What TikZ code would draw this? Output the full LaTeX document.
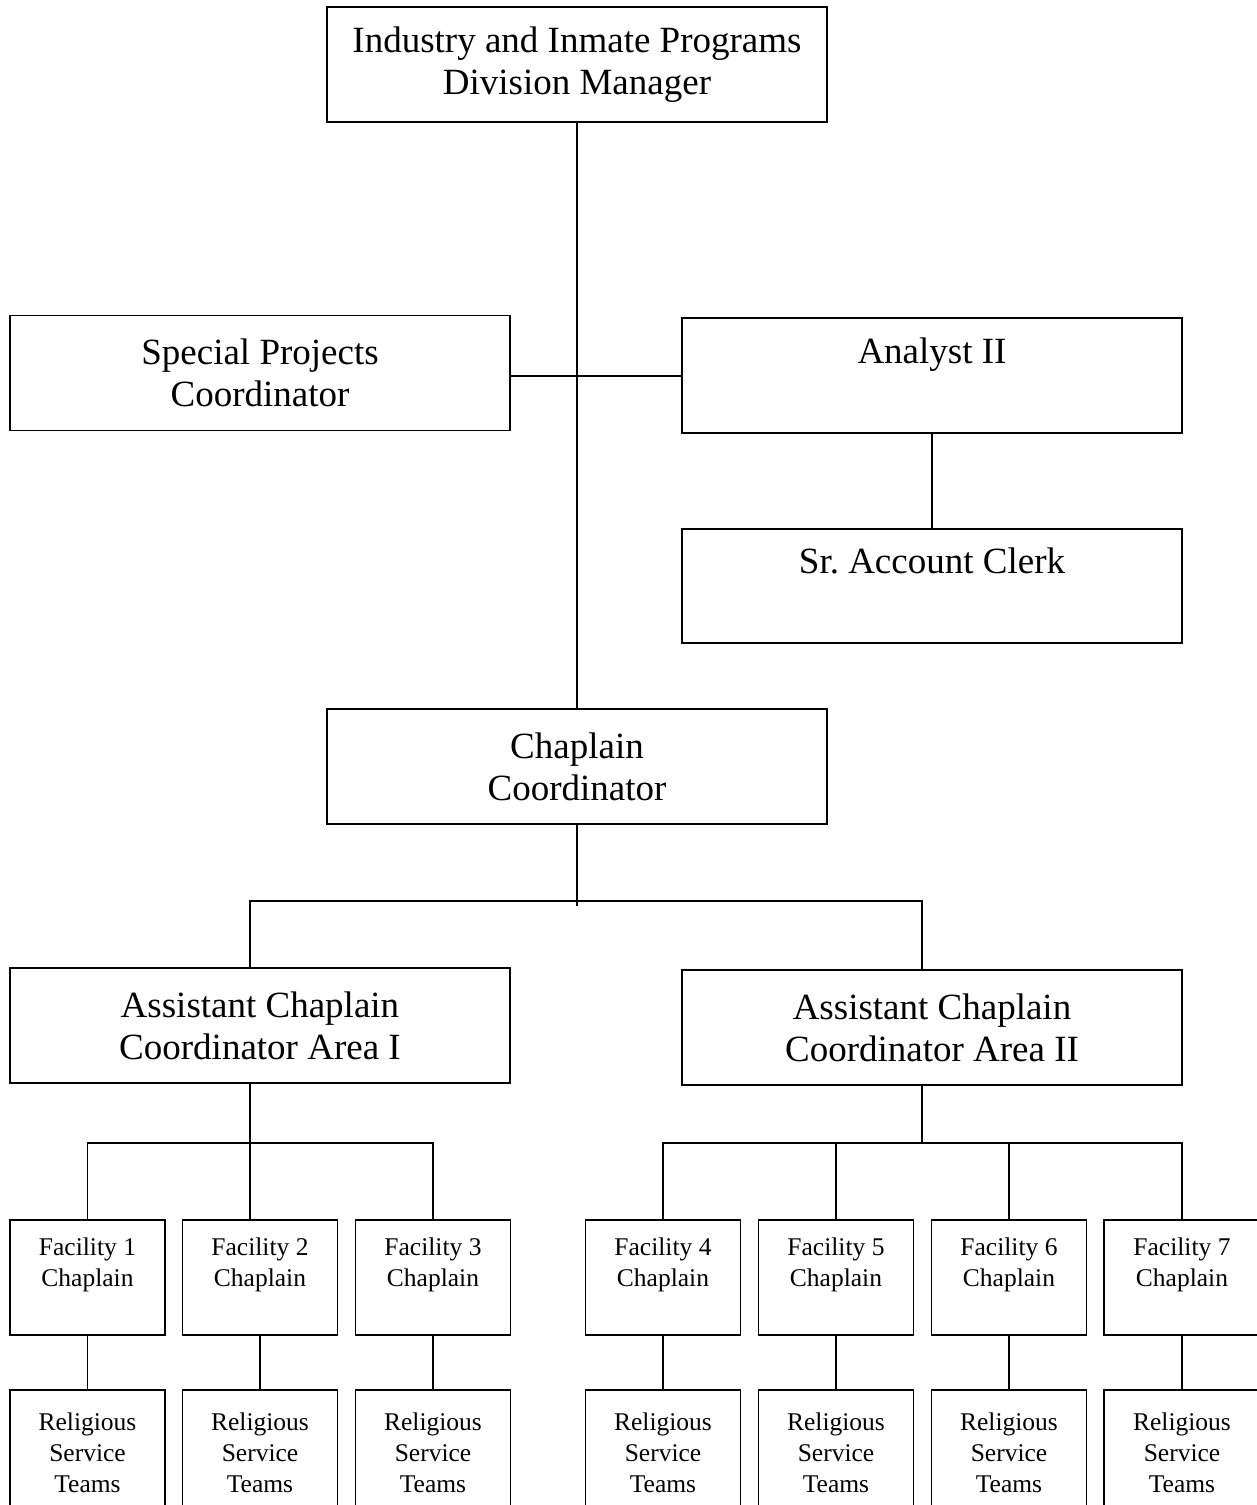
\documentclass[tikz,border=0pt]{standalone}
\usepackage{fontspec}
\setmainfont{Liberation Serif}
\frenchspacing
\begin{document}
\begin{tikzpicture}[x=1pt,y=-1pt,
  every path/.style={line width=1.8pt},
  bigbox/.style={draw, line width=1.8pt, minimum width=500pt, minimum height=115pt, inner sep=0pt, align=center, font=\fontsize{37}{42}\selectfont},
  facbox/.style={draw, line width=1.8pt, minimum width=155pt, minimum height=115pt, inner sep=0pt, align=center, font=\fontsize{25.5}{31}\selectfont},
  relbox/.style={facbox, minimum height=125pt},
  link/.style={draw, line width=1.6pt}]
\useasboundingbox (0,0) rectangle (1257,1505);
% upper boxes
\node[bigbox] (top) at (577,64.5) {Industry and Inmate Programs\\Division Manager};
\node[bigbox] (spc) at (260,373) {Special Projects\\Coordinator};
\node[bigbox] (an) at (932,375.5) {Analyst II\\\phantom{Ag}};
\node[bigbox, minimum height=114pt] (clerk) at (932,586) {Sr.\ Account Clerk\\\phantom{Ag}};
\node[bigbox] (chap) at (577,766.5) {Chaplain\\Coordinator};
\node[bigbox] (a1) at (260,1025.5) {Assistant Chaplain\\Coordinator Area I};
\node[bigbox] (a2) at (932,1027.5) {Assistant Chaplain\\Coordinator Area II};
% facility boxes
\foreach \i/\x in {1/87.5,2/260,3/433,4/663,5/836,6/1009}{
  \node[facbox] (f\i) at (\x,1277.5) {Facility \i\\Chaplain\\[-6pt]\phantom{Ag}};
  \node[relbox] (r\i) at (\x,1452.5) {Religious\\Service\\Teams};
}
\node[facbox, minimum width=156pt] (f7) at (1182,1277.5) {Facility 7\\Chaplain\\[-6pt]\phantom{Ag}};
\node[relbox, minimum width=156pt] (r7) at (1182,1452.5) {Religious\\Service\\Teams};
% connectors
\draw[link] (top.south) -- (chap.north);
\draw[link] (spc.east |- 0,376) -- (an.west |- 0,376);
\draw[link] (an.south) -- (clerk.north);
\coordinate (jc) at (577,906);
\coordinate (b1L) at (250,901);
\coordinate (b1R) at (922,901);
\draw[link] (chap.south) -- (jc);
\draw[link] (b1L |- a1.north) -- (b1L) -- (b1R) -- (b1R |- a2.north);
\coordinate (b2) at (250,1143);
\coordinate (b3) at (922,1143);
\draw[link] (a1.south -| b2) -- (b2);
\draw[link] (f1.north) -- (f1.north |- b2) -- (f3.north |- b2) -- (f3.north);
\draw[link] (b2) -- (b2 |- f2.north);
\draw[link] (a2.south -| b3) -- (b3);
\draw[link] (f4.north) -- (f4.north |- b3) -- (f7.north |- b3) -- (f7.north);
\draw[link] (f5.north |- b3) -- (f5.north);
\draw[link] (f6.north |- b3) -- (f6.north);
\foreach \i in {1,...,7}{
  \draw[link] (f\i.south) -- (r\i.north);
}
\end{tikzpicture}
\end{document}
